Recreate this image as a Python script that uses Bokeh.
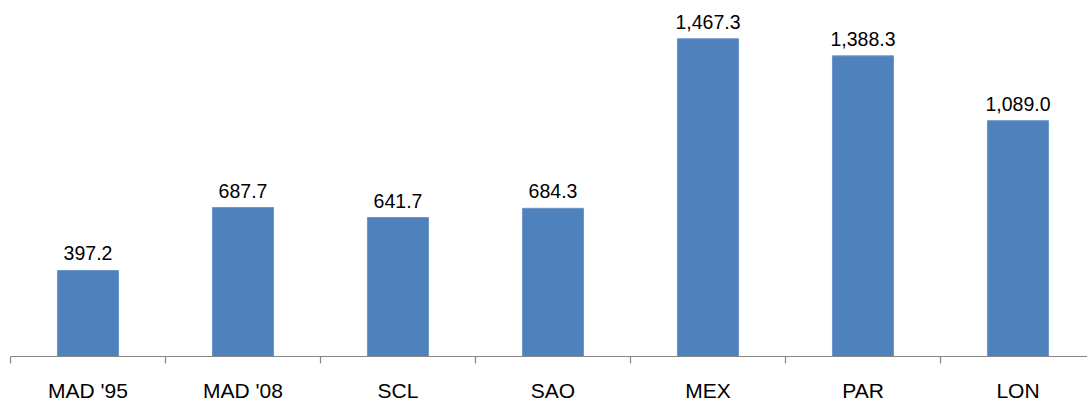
from bokeh.plotting import figure
from bokeh.models import ColumnDataSource, FixedTicker, Range1d
from bokeh.core.properties import value
from bokeh.embed import file_html
from bokeh.resources import INLINE

# Category names and their values
categories = ["MAD '95", "MAD '08", "SCL", "SAO", "MEX", "PAR", "LON"]
values = [397.2, 687.7, 641.7, 684.3, 1467.3, 1388.3, 1089.0]

centers = [i + 0.5 for i in range(len(categories))]
labels = [f"{v:,.1f}" for v in values]

source = ColumnDataSource(data=dict(x=centers, top=values, label=labels, name=categories))

FONT = "Liberation Sans"

p = figure(
    frame_width=1077,
    frame_height=356,
    output_backend="svg",
    toolbar_location=None,
    y_axis_location=None,
    x_range=Range1d(0, 1077 / 155),
    y_range=Range1d(0, 1644),
    min_border_left=10,
    min_border_right=0,
    min_border_top=0,
    min_border_bottom=0,
    outline_line_color=None,
    background_fill_color="white",
    border_fill_color="white",
)

p.vbar(x="x", top="top", width=0.394, bottom=0, source=source,
       fill_color="#4F81BD", line_color="#6C95C9", line_width=1)

p.text(x="x", y="top", text="label", source=source,
       text_align="center", text_baseline="alphabetic", y_offset=-17,
       text_font=value(FONT), text_font_size="19.5px", text_color="#000000")

p.xgrid.visible = False
p.ygrid.visible = False

ax = p.xaxis[0]
ax.ticker = FixedTicker(ticks=centers, minor_ticks=list(range(len(categories))))
ax.major_label_overrides = {c: n for c, n in zip(centers, categories)}
ax.axis_line_color = "#868686"
ax.axis_line_width = 1.2
ax.major_tick_line_color = None
ax.major_tick_out = 0
ax.major_tick_in = 0
ax.minor_tick_line_color = "#868686"
ax.minor_tick_line_width = 1.2
ax.minor_tick_out = 7
ax.minor_tick_in = 0
ax.major_label_standoff = 15
ax.major_label_text_font = FONT
ax.major_label_text_font_size = "21px"
ax.major_label_text_color = "#000000"

open("out.html", "w").write(file_html(p, INLINE))
